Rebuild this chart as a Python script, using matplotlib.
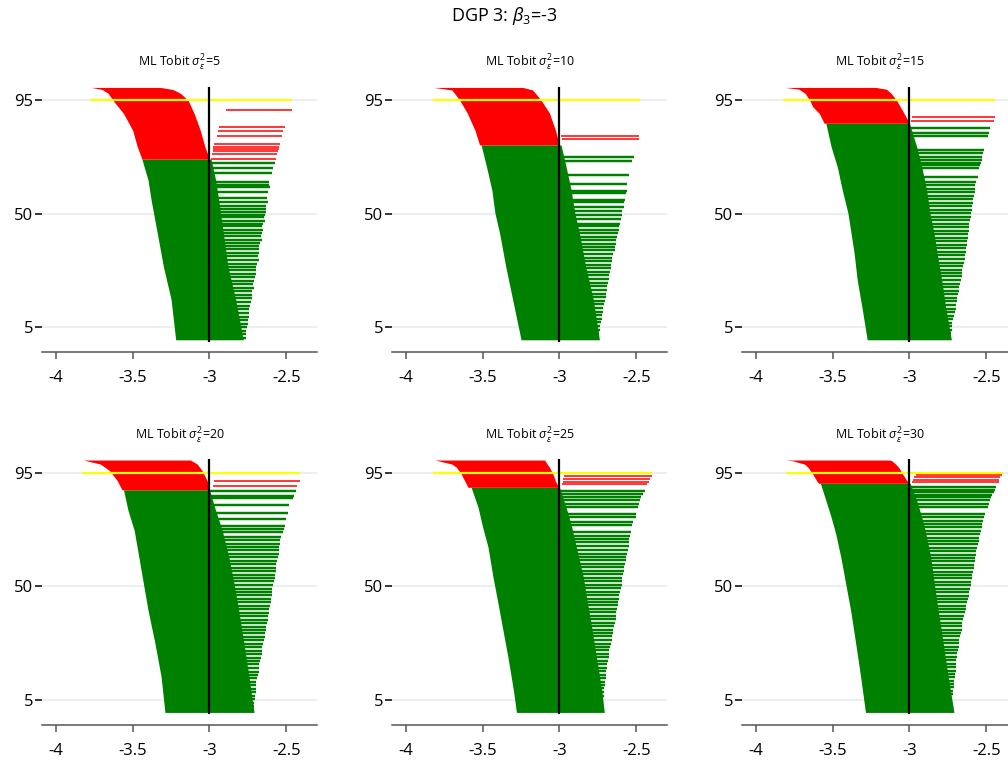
import matplotlib
matplotlib.use("Agg")
import matplotlib.pyplot as plt

plt.rcParams['font.family'] = ['Open Sans', 'DejaVu Sans']
plt.rcParams['mathtext.fontset'] = 'custom'
plt.rcParams['mathtext.rm'] = 'Open Sans'
plt.rcParams['mathtext.it'] = 'Open Sans:italic'

TRUE_BETA = -3
sigma2 = [5, 10, 15, 20, 25, 30]

# red (non-covering, estimate below truth) block: rank, lower end, upper end
red_env_y = [
    [100, 99.2, 97.7, 95, 89.7, 83, 76.5, 71.6],
    [100, 99, 95, 89.8, 83, 77.2],
    [100, 99.3, 97.7, 95, 92.4, 89.7, 85.8],
    [100, 98.4, 95.8, 91.8, 88.2],
    [100, 98.4, 97.1, 94.5, 91.5, 89.2],
    [100, 99.7, 98.4, 97.1, 94.5, 91.2, 90.8],
]
red_env_l = [
    [-3.77, -3.70, -3.66, -3.63, -3.56, -3.50, -3.47, -3.44],
    [-3.82, -3.70, -3.65, -3.60, -3.55, -3.52],
    [-3.81, -3.72, -3.68, -3.65, -3.63, -3.587, -3.555],
    [-3.82, -3.71, -3.65, -3.60, -3.57],
    [-3.81, -3.70, -3.67, -3.64, -3.615, -3.595],
    [-3.806, -3.76, -3.684, -3.66, -3.63, -3.598, -3.59],
]
red_env_r = [
    [-3.32, -3.24, -3.19, -3.14, -3.10, -3.06, -3.03, -3.0],
    [-3.24, -3.175, -3.12, -3.065, -3.026, -3.0],
    [-3.22, -3.15, -3.12, -3.085, -3.06, -3.035, -3.0],
    [-3.124, -3.08, -3.048, -3.015, -3.004],
    [-3.097, -3.08, -3.065, -3.043, -3.025, -3.005],
    [-3.13, -3.114, -3.09, -3.07, -3.045, -3.01, -3.0],
]

# green (covering) block
grn_env_y = [
    [71.6, 63.3, 55.4, 42.3, 29, 16, 0],
    [77.2, 68.6, 59.3, 50.2, 42.3, 29.1, 16, 0],
    [85.8, 76.5, 68.6, 59.3, 50.1, 42.2, 34.3, 23.7, 13.2, 0],
    [88.2, 80, 72.1, 61.6, 51, 40.5, 27.4, 14.2, 0],
    [89.2, 81.3, 73.4, 65.5, 53.7, 43.2, 32.6, 22.1, 8.9, 0],
    [90.8, 84, 77.4, 70.8, 61.6, 51, 40.5, 27.4, 14.2, 0],
]
grn_env_l = [
    [-3.44, -3.40, -3.38, -3.34, -3.30, -3.25, -3.22],
    [-3.51, -3.475, -3.44, -3.42, -3.39, -3.35, -3.305, -3.25],
    [-3.544, -3.51, -3.47, -3.437, -3.40, -3.38, -3.36, -3.34, -3.31, -3.275],
    [-3.56, -3.53, -3.49, -3.46, -3.43, -3.40, -3.355, -3.315, -3.29],
    [-3.575, -3.53, -3.50, -3.465, -3.433, -3.40, -3.368, -3.336, -3.30, -3.28],
    [-3.58, -3.544, -3.51, -3.48, -3.447, -3.415, -3.383, -3.35, -3.318, -3.286],
]
grn_env_r = [
    [-2.99, -2.96, -2.94, -2.91, -2.88, -2.83, -2.78],
    [-2.99, -2.957, -2.924, -2.90, -2.87, -2.83, -2.78, -2.74],
    [-3.0, -2.953, -2.92, -2.888, -2.866, -2.84, -2.82, -2.79, -2.765, -2.727],
    [-3.0, -2.96, -2.917, -2.874, -2.84, -2.81, -2.776, -2.743, -2.71],
    [-3.0, -2.957, -2.92, -2.89, -2.845, -2.817, -2.787, -2.76, -2.725, -2.708],
    [-2.996, -2.953, -2.92, -2.893, -2.862, -2.838, -2.813, -2.78, -2.748, -2.71],
]

# separate intervals with estimate above truth, not covering
red_line_y = [
    [91.0, 84.4, 82.7, 80.7, 77.6, 76.5, 75.6, 74.7, 73.6, 71.7],
    [80.7, 79.7],
    [88.4, 86.7],
    [91.8, 89.9],
    [93.8, 92.5, 91.2, 90.5],
    [94.1, 93.1, 92.1, 91.2],
]
red_line_lo = [
    [-2.895, -2.94, -2.945, -2.95, -2.97, -2.975, -2.98, -2.98, -2.985, -2.99],
    [-2.99, -2.985],
    [-2.985, -2.99],
    [-2.97, -2.98],
    [-2.97, -2.975, -2.98, -2.985],
    [-2.96, -2.97, -2.975, -2.985],
]
red_line_hi = [
    [-2.46, -2.51, -2.52, -2.53, -2.54, -2.545, -2.55, -2.555, -2.56, -2.57],
    [-2.48, -2.485],
    [-2.44, -2.45],
    [-2.41, -2.43],
    [-2.40, -2.41, -2.42, -2.43],
    [-2.40, -2.41, -2.415, -2.42],
]

# separate intervals with estimate above truth, covering (upper ends)
grn_line_y = [
    [70.1, 67.9, 66.2, 62.6, 61.3, 60.4, 58.6, 56.0, 54.7, 53.0, 51.8, 50.6,
     49.5, 48.6, 47.2, 46.0, 44.9, 43.5, 42.3, 41.0, 39.6, 38.5, 37.0, 35.8,
     34.4, 33.1, 31.7, 30.2, 29.0, 27.5, 26.1, 24.9, 23.4, 22.0, 20.6, 19.2,
     17.7, 16.4, 15.0, 13.5, 12.1, 10.6, 9.2, 7.9, 6.4, 5.0, 3.6, 2.1, 0.8],
    [72.3, 70.8, 65.1, 61.7, 59.0, 58.1, 55.4, 54.4, 52.8, 51.1, 49.5, 47.8,
     45.9, 44.9, 43.6, 42.2, 40.9, 39.5, 38.1, 36.8, 35.4, 34.1, 32.6, 31.3,
     29.7, 28.4, 26.9, 25.5, 24.0, 22.6, 21.2, 19.8, 18.3, 16.9, 15.5, 14.0,
     12.6, 11.2, 9.7, 8.3, 6.9, 5.4, 4.0, 2.6, 1.2],
    [83.8, 81.9, 80.8, 75.2, 74.1, 72.5, 71.2, 70.1, 69.2, 67.9, 64.6, 62.5,
     61.2, 59.8, 58.4, 57.1, 55.8, 54.2, 52.9, 51.5, 50.1, 48.8, 47.3, 45.9,
     44.6, 43.2, 41.8, 40.4, 39.0, 37.7, 36.2, 34.8, 33.5, 32.0, 30.6, 29.3,
     27.8, 26.4, 25.1, 23.6, 22.2, 20.8, 19.4, 18.0, 16.6, 15.2, 13.8, 12.3,
     11.0, 9.6, 8.1, 6.8, 5.4, 4.0, 2.6, 1.2],
    [87.9, 85.9, 85.0, 82.0, 79.0, 76.8, 74.0, 72.6, 71.4, 69.5, 68.2, 66.9,
     65.5, 64.2, 62.8, 61.5, 60.1, 58.7, 57.4, 56.0, 54.6, 53.2, 51.9, 50.5,
     49.1, 47.8, 46.4, 45.0, 43.6, 42.3, 40.9, 39.5, 38.2, 36.8, 35.4, 34.0,
     32.7, 31.3, 29.9, 28.6, 27.2, 25.8, 24.4, 23.1, 21.7, 20.3, 19.0, 17.6,
     16.2, 14.8, 13.5, 12.1, 10.7, 9.4, 8.0, 6.6, 5.2, 3.9, 2.5, 1.1],
    [87.9, 86.6, 85.3, 84.0, 82.7, 81.4, 78.7, 77.3, 75.5, 74.2, 71.5, 70.1,
     68.8, 67.4, 66.0, 64.3, 62.9, 61.6, 60.2, 58.8, 57.5, 56.1, 54.7, 53.4,
     52.0, 50.6, 49.3, 47.9, 46.5, 45.1, 43.8, 42.4, 41.0, 39.7, 38.3, 36.9,
     35.5, 34.2, 32.8, 31.4, 30.1, 28.7, 27.3, 25.9, 24.6, 23.2, 21.8, 20.5,
     19.1, 17.7, 16.3, 15.0, 13.6, 12.2, 10.9, 9.5, 8.1, 6.7, 5.4, 4.0, 2.6, 1.3],
    [89.2, 88.2, 87.2, 86.2, 85.3, 84.3, 82.6, 81.3, 78.7, 77.4, 76.0, 74.7,
     73.3, 72.0, 70.6, 69.3, 67.9, 66.6, 65.2, 63.9, 62.5, 61.2, 59.8, 58.5,
     57.1, 55.8, 54.4, 53.1, 51.7, 50.4, 49.0, 47.7, 46.3, 45.0, 43.6, 42.3,
     40.9, 39.6, 38.2, 36.9, 35.5, 34.2, 32.8, 31.5, 30.1, 28.8, 27.4, 26.1,
     24.7, 23.4, 22.0, 20.7, 19.3, 18.0, 16.6, 15.3, 13.9, 12.6, 11.2, 9.9,
     8.5, 7.2, 5.8, 4.5, 3.1, 1.8],
]
grn_line_hi = [
    [-2.575, -2.585, -2.59, -2.61, -2.615, -2.605, -2.62, -2.625, -2.62, -2.63,
     -2.63, -2.635, -2.64, -2.645, -2.64, -2.65, -2.655, -2.65, -2.66, -2.665,
     -2.66, -2.67, -2.675, -2.675, -2.68, -2.685, -2.68, -2.69, -2.695, -2.70,
     -2.70, -2.705, -2.71, -2.715, -2.71, -2.72, -2.725, -2.72, -2.73, -2.735,
     -2.74, -2.74, -2.745, -2.75, -2.75, -2.755, -2.76, -2.76, -2.765],
    [-2.517, -2.53, -2.55, -2.56, -2.56, -2.565, -2.575, -2.58, -2.58, -2.59,
     -2.595, -2.60, -2.605, -2.61, -2.615, -2.62, -2.625, -2.63, -2.635, -2.64,
     -2.64, -2.65, -2.655, -2.655, -2.665, -2.665, -2.67, -2.675, -2.68, -2.685,
     -2.69, -2.69, -2.695, -2.70, -2.705, -2.71, -2.715, -2.715, -2.72, -2.725,
     -2.73, -2.735, -2.735, -2.74, -2.745],
    [-2.473, -2.48, -2.49, -2.516, -2.52, -2.525, -2.53, -2.535, -2.54, -2.545,
     -2.555, -2.565, -2.57, -2.57, -2.575, -2.58, -2.585, -2.585, -2.59, -2.595,
     -2.60, -2.60, -2.605, -2.61, -2.61, -2.615, -2.62, -2.62, -2.625, -2.625,
     -2.63, -2.635, -2.64, -2.64, -2.645, -2.65, -2.655, -2.66, -2.66, -2.665,
     -2.67, -2.675, -2.68, -2.685, -2.69, -2.69, -2.695, -2.70, -2.705, -2.71,
     -2.715, -2.72, -2.72, -2.725, -2.73, -2.73],
    [-2.44, -2.45, -2.455, -2.48, -2.49, -2.50, -2.51, -2.515, -2.52, -2.535,
     -2.54, -2.54, -2.545, -2.55, -2.55, -2.555, -2.56, -2.565, -2.565, -2.57,
     -2.575, -2.575, -2.58, -2.585, -2.59, -2.59, -2.595, -2.60, -2.60, -2.605,
     -2.61, -2.615, -2.62, -2.62, -2.625, -2.63, -2.635, -2.64, -2.64, -2.645,
     -2.65, -2.655, -2.66, -2.66, -2.665, -2.67, -2.675, -2.68, -2.68, -2.685,
     -2.69, -2.695, -2.695, -2.70, -2.70, -2.705, -2.705, -2.71, -2.71, -2.715],
    [-2.44, -2.455, -2.47, -2.475, -2.48, -2.49, -2.50, -2.505, -2.52, -2.525,
     -2.535, -2.54, -2.545, -2.545, -2.55, -2.556, -2.56, -2.565, -2.57, -2.575,
     -2.58, -2.58, -2.585, -2.59, -2.59, -2.595, -2.60, -2.605, -2.61, -2.615,
     -2.62, -2.62, -2.625, -2.63, -2.635, -2.635, -2.64, -2.645, -2.65, -2.65,
     -2.655, -2.66, -2.665, -2.67, -2.675, -2.675, -2.68, -2.685, -2.69, -2.69,
     -2.695, -2.70, -2.70, -2.705, -2.705, -2.71, -2.71, -2.71, -2.715, -2.715,
     -2.72, -2.72],
    [-2.437, -2.44, -2.45, -2.46, -2.47, -2.475, -2.485, -2.49, -2.51, -2.515,
     -2.52, -2.525, -2.53, -2.535, -2.54, -2.545, -2.55, -2.555, -2.56, -2.565,
     -2.565, -2.57, -2.575, -2.58, -2.58, -2.585, -2.59, -2.595, -2.60, -2.60,
     -2.605, -2.61, -2.615, -2.62, -2.625, -2.63, -2.635, -2.64, -2.645, -2.65,
     -2.655, -2.66, -2.66, -2.665, -2.67, -2.675, -2.68, -2.68, -2.685, -2.69,
     -2.69, -2.695, -2.695, -2.70, -2.70, -2.705, -2.705, -2.71, -2.71, -2.71,
     -2.715, -2.715, -2.72, -2.72, -2.72, -2.725],
]

# Monte Carlo coverage line at the 95th centile
mc_lo = [-3.78, -3.82, -3.82, -3.83, -3.82, -3.806]
mc_hi = [-2.46, -2.476, -2.44, -2.41, -2.40, -2.39]

y_ticks = [5, 50, 95]
x_ticks = [-4, -3.5, -3, -2.5]
x_tick_labels = ["-4", "-3.5", "-3", "-2.5"]

RED = '#ff0000'
GREEN = '#008000'

fig = plt.figure(figsize=(10.08, 7.6), dpi=100)
lefts = [0.0417, 0.3889, 0.7361]
bottoms = [0.5363, 0.046]

for i in range(6):
    row, col = divmod(i, 3)
    ax = fig.add_axes([lefts[col], bottoms[row], 0.2728, 0.352])

    # separate right-hand intervals (under the solid blocks)
    ax.hlines(grn_line_y[i], TRUE_BETA, grn_line_hi[i], color=GREEN, lw=1.75, zorder=1)
    ax.fill_betweenx(grn_env_y[i], grn_env_l[i], grn_env_r[i], color=GREEN, lw=0, zorder=2)
    ax.fill_betweenx(red_env_y[i], red_env_l[i], red_env_r[i], color=RED, lw=0, zorder=2)
    ax.hlines(red_line_y[i], red_line_lo[i], red_line_hi[i], color=RED, lw=1.1, zorder=3)

    ax.hlines(95, mc_lo[i], mc_hi[i], color='#ffff00', lw=1.6, zorder=4)
    ax.vlines(TRUE_BETA, -0.7, 100.3, color='black', lw=1.6, zorder=5)

    ax.set_xlim(-4.09, -2.30)
    ax.set_ylim(-5, 101)
    ax.set_yticks(y_ticks)
    ax.set_yticklabels([str(t) for t in y_ticks])
    ax.set_xticks(x_ticks)
    ax.set_xticklabels(x_tick_labels)
    ax.grid(axis='y', color='#eaf0f2', lw=1.5, zorder=0)
    ax.set_axisbelow(True)

    for s in ['left', 'top', 'right']:
        ax.spines[s].set_visible(False)
    ax.spines['bottom'].set_color('#555555')
    ax.spines['bottom'].set_linewidth(1.1)

    ax.tick_params(axis='y', length=5, width=1.1, color='black', pad=1.5, labelsize=12)
    ax.tick_params(axis='x', length=5, width=1.1, color='#555555', pad=8, labelsize=12)

    ax.set_title(r"ML Tobit $\sigma^{2}_{\varepsilon}$=" + str(sigma2[i]), fontsize=9, pad=13)

fig.text(0.5, 0.979, r"DGP 3: $\beta_{3}$=-3", ha='center', va='center', fontsize=13)

fig.savefig("out.png", dpi=100)
